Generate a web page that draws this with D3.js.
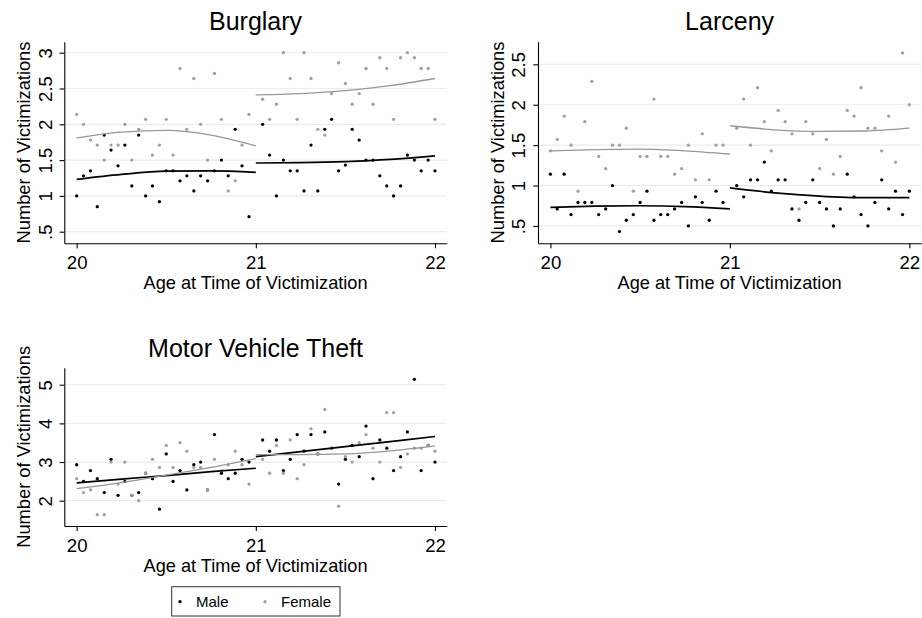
<!DOCTYPE html>
<html>
<head>
<meta charset="utf-8">
<script src="https://cdn.jsdelivr.net/npm/d3@7"></script>
<style>
  body { margin: 0; background: #fff; }
  svg { display: block; }
  text { font-family: "Liberation Sans", Arial, Helvetica, sans-serif; fill: #000; }
</style>
</head>
<body>
<svg id="chart" width="922" height="618"></svg>
<script>
// Age (years) of each two-week observation window; the 21st birthday itself is not observed.
const ages = [
  20.000, 20.038, 20.077, 20.115, 20.154, 20.192, 20.231, 20.269, 20.308, 20.346, 20.385, 20.423, 20.462,
  20.500, 20.538, 20.577, 20.615, 20.654, 20.692, 20.731, 20.769, 20.808, 20.846, 20.885, 20.923, 20.962,
  21.038, 21.077, 21.115, 21.154, 21.192, 21.231, 21.269, 21.308, 21.346, 21.385, 21.423, 21.462, 21.500,
  21.538, 21.577, 21.615, 21.654, 21.692, 21.731, 21.769, 21.808, 21.846, 21.885, 21.923, 21.962, 22.000
];

const crimes = ["Burglary", "Larceny", "Motor Vehicle Theft"];
const sexes = ["Male", "Female"];

// Mean number of victimizations per window
const burglaryMale = [
  1.00, 1.28, 1.35, 0.85, 1.85, 1.64, 1.42, 1.71, 1.14, 1.85, 1.00, 1.14, 0.92,
  1.35, 1.35, 1.21, 1.28, 1.07, 1.28, 1.21, 1.35, 1.50, 1.28, 1.93, 1.42, 0.71,
  2.00, 1.57, 1.00, 1.50, 1.35, 1.35, 1.07, 1.71, 1.07, 1.93, 2.07, 1.35, 1.43,
  1.93, 1.78, 1.50, 1.50, 1.28, 1.14, 1.00, 1.14, 1.57, 1.50, 1.35, 1.50, 1.35
];
const burglaryFemale = [
  2.14, 2.00, 1.78, 1.71, 1.50, 1.71, 1.71, 2.00, 1.50, 1.93, 2.07, 1.57, 1.71,
  2.07, 1.57, 2.78, 1.93, 2.64, 2.00, 1.50, 2.71, 2.07, 1.07, 1.21, 1.71, 2.14,
  2.35, 2.07, 2.28, 3.00, 2.64, 2.07, 3.00, 2.64, 1.93, 1.85, 2.43, 2.86, 2.57,
  2.28, 2.43, 2.78, 2.28, 2.93, 2.78, 2.07, 2.93, 3.00, 2.93, 2.78, 2.78, 2.07
];
const larcenyMale = [
  1.14, 0.71, 1.14, 0.64, 0.79, 0.79, 0.79, 0.64, 0.71, 1.00, 0.43, 0.57, 0.64,
  0.79, 0.93, 0.57, 0.64, 0.64, 0.71, 0.79, 0.50, 0.86, 0.79, 0.57, 0.93, 0.79,
  1.00, 0.86, 1.07, 1.07, 1.29, 0.93, 1.07, 1.07, 0.71, 0.57, 0.79, 1.07, 0.79,
  0.71, 0.50, 0.71, 1.14, 0.86, 0.64, 0.50, 0.79, 1.07, 0.71, 0.93, 0.64, 0.93
];
const larcenyFemale = [
  1.43, 1.57, 1.86, 1.50, 0.93, 1.79, 2.29, 1.36, 1.21, 1.50, 1.50, 1.71, 0.93,
  1.36, 1.36, 2.07, 1.36, 1.36, 1.14, 1.21, 1.50, 1.07, 1.64, 1.07, 1.50, 1.50,
  1.71, 2.07, 1.50, 2.21, 1.79, 1.43, 1.93, 1.79, 1.64, 0.71, 1.79, 1.64, 1.21,
  1.57, 1.14, 1.36, 1.93, 1.86, 2.21, 1.71, 1.71, 1.43, 1.86, 1.29, 2.64, 2.00
];
const motorVehicleMale = [
  2.93, 2.50, 2.78, 2.57, 2.21, 3.07, 2.14, 2.50, 2.14, 2.21, 2.71, 2.57, 1.78,
  3.21, 2.50, 2.78, 2.28, 2.93, 3.00, 2.28, 3.71, 2.71, 2.57, 2.71, 3.07, 3.00,
  3.57, 3.28, 3.57, 2.78, 3.07, 3.71, 3.28, 3.71, 3.21, 3.78, 3.36, 2.43, 3.07,
  3.43, 3.14, 3.93, 2.57, 3.57, 3.36, 2.78, 3.14, 3.78, 5.14, 2.78, 3.43, 3.00
];
const motorVehicleFemale = [
  2.57, 2.21, 2.28, 1.64, 1.64, 3.00, 2.43, 3.00, 2.14, 2.00, 2.71, 3.07, 2.86,
  3.43, 2.86, 3.50, 3.28, 2.86, 2.86, 2.28, 3.07, 2.78, 2.93, 3.28, 2.93, 2.43,
  3.07, 2.71, 3.43, 2.71, 3.57, 2.57, 2.93, 3.86, 3.21, 4.36, 3.36, 1.86, 3.14,
  3.00, 3.50, 3.71, 3.36, 3.00, 4.28, 4.28, 2.86, 3.21, 3.36, 3.36, 3.43, 3.28
];

// Fitted trend on each side of age 21, evaluated at these ages
const fitAgesBefore = [20, 20.25, 20.5, 20.75, 21];
const fitAgesAfter = [21, 21.25, 21.5, 21.75, 22];

const burglaryMaleFitBefore = [1.23, 1.30, 1.345, 1.35, 1.33];
const burglaryMaleFitAfter = [1.46, 1.465, 1.48, 1.51, 1.56];
const burglaryFemaleFitBefore = [1.81, 1.89, 1.915, 1.85, 1.70];
const burglaryFemaleFitAfter = [2.41, 2.43, 2.47, 2.54, 2.64];

const larcenyMaleFitBefore = [0.73, 0.745, 0.75, 0.74, 0.71];
const larcenyMaleFitAfter = [0.97, 0.91, 0.87, 0.85, 0.85];
const larcenyFemaleFitBefore = [1.43, 1.445, 1.45, 1.43, 1.39];
const larcenyFemaleFitAfter = [1.74, 1.69, 1.67, 1.675, 1.71];

const motorVehicleMaleFitBefore = [2.46, 2.56, 2.65, 2.75, 2.84];
const motorVehicleMaleFitAfter = [3.14, 3.27, 3.40, 3.53, 3.66];
const motorVehicleFemaleFitBefore = [2.31, 2.47, 2.66, 2.86, 3.09];
const motorVehicleFemaleFitAfter = [3.19, 3.19, 3.21, 3.29, 3.42];

const ageTicks = [20, 21, 22];
const burglaryTicks = [0.5, 1, 1.5, 2, 2.5, 3];
const larcenyTicks = [0.5, 1, 1.5, 2, 2.5];
const motorVehicleTicks = [2, 3, 4, 5];

const xTitle = "Age at Time of Victimization";
const yTitle = "Number of Victimizations";

// ---------------------------------------------------------------------------
const svg = d3.select("#chart");
svg.append("rect").attr("width", 922).attr("height", 618).attr("fill", "#fff");

const colors = { Male: "#000000", Female: "#a0a0a0" };
const lineColors = { Male: "#000000", Female: "#979797" };
const lineWidths = { Male: 1.7, Female: 1.3 };
const gridColor = "#e6eef1";
const fontStack = '"Liberation Sans", Arial, sans-serif';

const panels = [
  { title: crimes[0], series: { Male: burglaryMale, Female: burglaryFemale },
    fits: { Male: [burglaryMaleFitBefore, burglaryMaleFitAfter], Female: [burglaryFemaleFitBefore, burglaryFemaleFitAfter] },
    ticks: burglaryTicks, yDomain: [0.338, 3.154], x0: 64.3, x1: 446.8, y0: 41.7, y1: 243.3, titleY: 30 },
  { title: crimes[1], series: { Male: larcenyMale, Female: larcenyFemale },
    fits: { Male: [larcenyMaleFitBefore, larcenyMaleFitAfter], Female: [larcenyFemaleFitBefore, larcenyFemaleFitAfter] },
    ticks: larcenyTicks, yDomain: [0.285, 2.78], x0: 538.0, x1: 921.2, y0: 41.7, y1: 243.3, titleY: 30 },
  { title: crimes[2], series: { Male: motorVehicleMale, Female: motorVehicleFemale },
    fits: { Male: [motorVehicleMaleFitBefore, motorVehicleMaleFitAfter], Female: [motorVehicleFemaleFitBefore, motorVehicleFemaleFitAfter] },
    ticks: motorVehicleTicks, yDomain: [1.346, 5.44], x0: 64.3, x1: 446.8, y0: 367.7, y1: 526, titleY: 356.7 }
];

const xDomain = [19.931, 22.066];
const fmtTick = d => String(d).replace(/^0\./, ".");

panels.forEach(p => {
  const g = svg.append("g");
  const x = d3.scaleLinear().domain(xDomain).range([p.x0, p.x1]);
  const y = d3.scaleLinear().domain(p.yDomain).range([p.y1, p.y0]);

  // horizontal grid
  g.append("g").selectAll("line").data(p.ticks).join("line")
    .attr("x1", p.x0).attr("x2", p.x1)
    .attr("y1", d => y(d)).attr("y2", d => y(d))
    .attr("stroke", gridColor).attr("stroke-width", 1.2);

  // scatter: male first, female drawn on top
  sexes.forEach(s => {
    g.append("g").selectAll("circle").data(p.series[s]).join("circle")
      .attr("cx", (d, i) => x(ages[i]))
      .attr("cy", d => y(d))
      .attr("r", 1.65)
      .attr("fill", colors[s]);
  });

  // fitted trends, drawn separately below and above age 21
  const line = d3.line().curve(d3.curveMonotoneX).x(d => x(d[0])).y(d => y(d[1]));
  sexes.forEach(s => {
    [fitAgesBefore, fitAgesAfter].forEach((fa, k) => {
      const vals = p.fits[s][k];
      g.append("path")
        .datum(fa.map((a, i) => [a, vals[i]]))
        .attr("fill", "none")
        .attr("stroke", lineColors[s])
        .attr("stroke-width", lineWidths[s])
        .attr("d", line);
    });
  });

  // x axis
  const gx = g.append("g").attr("transform", `translate(0,${p.y1})`)
    .call(d3.axisBottom(x).tickValues(ageTicks).tickSize(5).tickSizeOuter(0).tickFormat(d3.format("d")));
  gx.select(".domain").attr("stroke", "#000").attr("stroke-width", 1.1);
  gx.selectAll(".tick line").attr("stroke", "#000").attr("stroke-width", 1.1);
  gx.selectAll(".tick text").attr("y", 25.6).attr("dy", 0)
    .style("font-size", "18.6px").style("font-family", fontStack).attr("fill", "#000");

  // y axis with rotated labels
  const gy = g.append("g").attr("transform", `translate(${p.x0},0)`)
    .call(d3.axisLeft(y).tickValues(p.ticks).tickSize(4.7).tickSizeOuter(0).tickFormat(fmtTick));
  gy.select(".domain").attr("stroke", "#000").attr("stroke-width", 1.1);
  gy.selectAll(".tick line").attr("stroke", "#000").attr("stroke-width", 1.1);
  gy.selectAll(".tick text")
    .attr("x", 0).attr("dy", 0).attr("y", -12.8)
    .attr("transform", "rotate(-90)")
    .attr("text-anchor", "middle")
    .style("font-size", "18.6px").style("font-family", fontStack).attr("fill", "#000");

  // titles
  const cx = (p.x0 + p.x1) / 2;
  g.append("text").attr("x", cx).attr("y", p.titleY)
    .attr("text-anchor", "middle").style("font-size", "25px").text(p.title);
  g.append("text").attr("x", cx).attr("y", p.y1 + 46)
    .attr("text-anchor", "middle").style("font-size", "18.2px").text(xTitle);
  g.append("text")
    .attr("transform", `translate(${p.x0 - 34.3},${(p.y0 + p.y1) / 2}) rotate(-90)`)
    .attr("text-anchor", "middle").style("font-size", "18.3px").text(yTitle);
});

// legend
const legend = svg.append("g").attr("transform", "translate(171.7,586.7)");
legend.append("rect").attr("width", 168.3).attr("height", 29.3)
  .attr("fill", "#fff").attr("stroke", "#333").attr("stroke-width", 1);
const legendItems = legend.selectAll("g.item").data(sexes).join("g")
  .attr("class", "item")
  .attr("transform", (d, i) => `translate(${[8.3, 93.3][i]},15)`);
legendItems.append("circle").attr("r", 1.65).attr("fill", d => colors[d]);
legendItems.append("text").attr("x", 16).attr("y", 5.5)
  .style("font-size", "15px").text(d => d);
</script>
</body>
</html>
